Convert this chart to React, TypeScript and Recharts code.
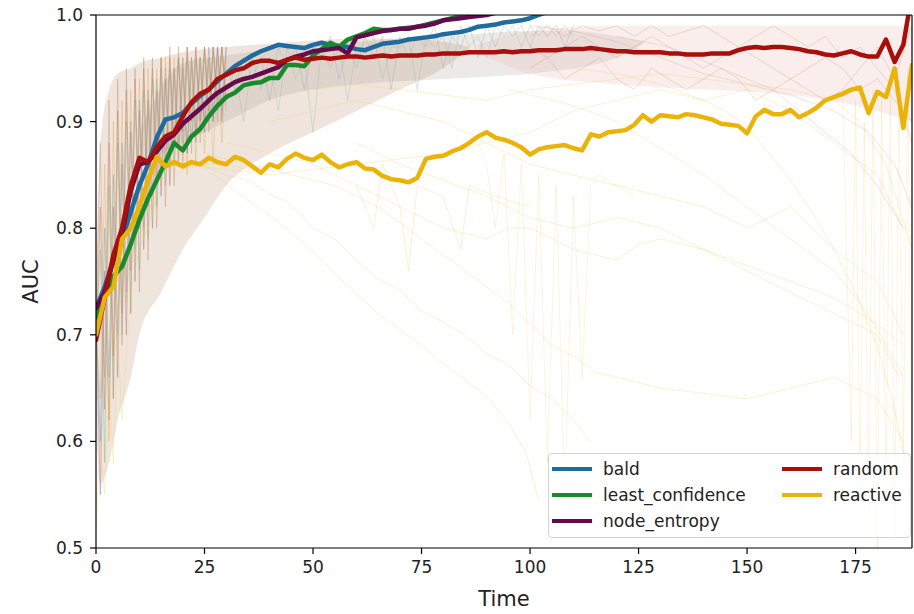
import React from 'react';
import { ComposedChart, Line, Area, XAxis, YAxis, Legend, ReferenceLine } from 'recharts';

// ---------- axis ticks ----------
const xTicks = [0, 25, 50, 75, 100, 125, 150, 175];
const yTicks = [0.5, 0.6, 0.7, 0.8, 0.9, 1.0];
const TIME_STEP = 2; // main series are sampled every 2 time units starting at 0

// ---------- mean curves (t = 0, 2, 4, ...) ----------
const bald = [
  0.725, 0.745, 0.770, 0.790, 0.815, 0.840, 0.860, 0.885, 0.902, 0.904, 0.908, 0.917, 0.924, 0.930, 0.938, 0.945,
  0.952, 0.957, 0.962, 0.966, 0.969, 0.972, 0.971, 0.970, 0.969, 0.972, 0.974, 0.972, 0.971, 0.970, 0.968, 0.967,
  0.970, 0.973, 0.974, 0.975, 0.977, 0.978, 0.979, 0.980, 0.982, 0.983, 0.984, 0.986, 0.989, 0.990, 0.991, 0.993,
  0.994, 0.995, 0.997, 1.000, 1.003, 1.005,
];
const leastConfidence = [
  0.716, 0.735, 0.755, 0.764, 0.785, 0.808, 0.828, 0.845, 0.862, 0.880, 0.873, 0.886, 0.893, 0.905, 0.915, 0.923,
  0.927, 0.934, 0.936, 0.937, 0.941, 0.941, 0.953, 0.953, 0.952, 0.962, 0.968, 0.974, 0.970, 0.977, 0.980, 0.983,
  0.987, 0.986, 0.986, 0.987, 0.988, 0.989, 0.991, 0.993, 0.995, 0.997, 0.999, 1.001, 1.003,
];
const nodeEntropy = [
  0.725, 0.740, 0.770, 0.795, 0.835, 0.860, 0.862, 0.872, 0.882, 0.888, 0.898, 0.905, 0.912, 0.920, 0.927, 0.932,
  0.937, 0.940, 0.942, 0.945, 0.948, 0.951, 0.958, 0.961, 0.963, 0.966, 0.967, 0.968, 0.969, 0.964, 0.979, 0.981,
  0.983, 0.985, 0.986, 0.987, 0.987, 0.989, 0.990, 0.992, 0.995, 0.996, 0.997, 0.998, 0.999, 1.000, 1.002, 1.004,
];
const random = [
  0.695, 0.735, 0.775, 0.800, 0.840, 0.866, 0.862, 0.876, 0.886, 0.890, 0.905, 0.918, 0.926, 0.930, 0.940, 0.944,
  0.948, 0.950, 0.955, 0.957, 0.957, 0.955, 0.958, 0.960, 0.958, 0.959, 0.960, 0.959, 0.960, 0.961, 0.961, 0.960,
  0.961, 0.962, 0.961, 0.962, 0.962, 0.962, 0.963, 0.963, 0.964, 0.964, 0.964, 0.965, 0.965, 0.965, 0.965, 0.966,
  0.965, 0.966, 0.966, 0.967, 0.967, 0.967, 0.968, 0.968, 0.968, 0.969, 0.968, 0.967, 0.966, 0.966, 0.965, 0.965,
  0.965, 0.965, 0.964, 0.964, 0.963, 0.963, 0.963, 0.964, 0.964, 0.964, 0.967, 0.969, 0.970, 0.969, 0.970, 0.970,
  0.969, 0.968, 0.966, 0.965, 0.963, 0.962, 0.964, 0.966, 0.963, 0.961, 0.961, 0.977, 0.956, 0.972, 1.020,
];
const reactive = [
  0.700, 0.735, 0.745, 0.790, 0.800, 0.820, 0.845, 0.867, 0.858, 0.862, 0.858, 0.862, 0.860, 0.866, 0.862, 0.860,
  0.867, 0.864, 0.858, 0.852, 0.860, 0.857, 0.865, 0.870, 0.866, 0.864, 0.869, 0.862, 0.857, 0.860, 0.862, 0.856,
  0.855, 0.849, 0.846, 0.845, 0.843, 0.847, 0.865, 0.867, 0.868, 0.872, 0.875, 0.880, 0.886, 0.890, 0.885, 0.883,
  0.880, 0.876, 0.869, 0.874, 0.876, 0.877, 0.878, 0.875, 0.873, 0.888, 0.886, 0.890, 0.891, 0.892, 0.897, 0.906,
  0.900, 0.906, 0.905, 0.904, 0.907, 0.906, 0.904, 0.902, 0.898, 0.897, 0.896, 0.889, 0.905, 0.911, 0.907, 0.907,
  0.911, 0.904, 0.908, 0.913, 0.920, 0.923, 0.926, 0.930, 0.932, 0.908, 0.928, 0.923, 0.950, 0.894, 0.953,
];

// ---------- individual runs (faint) ----------
// early spiky runs, t = 0..30 step 1
const runBaldEarly = [0.72, 0.60, 0.80, 0.66, 0.85, 0.70, 0.88, 0.74, 0.90, 0.78, 0.92, 0.80, 0.93, 0.83, 0.94, 0.85, 0.95, 0.86, 0.95, 0.88, 0.96, 0.87, 0.96, 0.89, 0.96, 0.90, 0.97, 0.90, 0.97, 0.91, 0.97];
const runLeastEarly = [0.70, 0.78, 0.58, 0.84, 0.64, 0.88, 0.70, 0.90, 0.72, 0.92, 0.76, 0.93, 0.79, 0.94, 0.82, 0.95, 0.84, 0.95, 0.86, 0.96, 0.87, 0.96, 0.88, 0.96, 0.90, 0.97, 0.90, 0.97, 0.91, 0.97, 0.92];
const runRandomEarly = [0.69, 0.82, 0.63, 0.88, 0.68, 0.91, 0.72, 0.93, 0.76, 0.94, 0.80, 0.95, 0.82, 0.95, 0.85, 0.96, 0.86, 0.96, 0.88, 0.96, 0.89, 0.97, 0.90, 0.97, 0.90, 0.97, 0.91, 0.97, 0.92, 0.97, 0.92];
const runEntropyEarly = [0.72, 0.55, 0.76, 0.62, 0.82, 0.66, 0.86, 0.70, 0.89, 0.75, 0.91, 0.78, 0.92, 0.80, 0.93, 0.83, 0.94, 0.84, 0.95, 0.86, 0.95, 0.87, 0.96, 0.88, 0.96, 0.89, 0.96, 0.90, 0.97, 0.90, 0.97];
const runReactiveEarly = [0.70, 0.64, 0.86, 0.60, 0.90, 0.68, 0.92, 0.73, 0.93, 0.77, 0.94, 0.79, 0.95, 0.81, 0.95, 0.84, 0.96, 0.85, 0.96, 0.86, 0.96, 0.85, 0.96, 0.86, 0.96, 0.87, 0.96, 0.86, 0.96, 0.88, 0.96];
const runRandomEarly2 = [0.71, 0.88, 0.66, 0.92, 0.64, 0.94, 0.69, 0.95, 0.72, 0.95, 0.74, 0.96, 0.77, 0.96, 0.80, 0.96, 0.82, 0.97, 0.84, 0.97, 0.86, 0.97, 0.87, 0.97, 0.88, 0.97, 0.89, 0.97, 0.90, 0.97, 0.91];
// mid runs, t = 30..110 step 2
const runBaldMid = [0.95, 0.93, 0.96, 0.94, 0.96, 0.92, 0.97, 0.95, 0.97, 0.93, 0.97, 0.96, 0.98, 0.94, 0.97, 0.95, 0.98, 0.96, 0.98, 0.93, 0.98, 0.96, 0.98, 0.97, 0.99, 0.95, 0.98, 0.97, 0.99, 0.96, 0.99, 0.97, 0.99, 0.98, 0.99, 0.97, 0.99, 0.98, 0.99, 0.97, 0.99];
const runLeastMid = [0.92, 0.95, 0.90, 0.96, 0.93, 0.96, 0.91, 0.97, 0.94, 0.96, 0.89, 0.97, 0.95, 0.97, 0.92, 0.97, 0.96, 0.98, 0.94, 0.97, 0.97, 0.98, 0.93, 0.98, 0.97, 0.98, 0.95, 0.99, 0.97, 0.98, 0.96, 0.99, 0.98, 0.99, 0.97, 0.99, 0.98, 0.99, 0.98, 0.99, 0.98];
// late random runs, t = 100..188 step 4
const runRandomLate1 = [0.97, 0.96, 0.97, 0.98, 0.97, 0.96, 0.97, 0.98, 0.97, 0.96, 0.95, 0.96, 0.97, 0.96, 0.95, 0.94, 0.95, 0.96, 0.95, 0.93, 0.94, 0.92, 0.90];
const runRandomLate2 = [0.95, 0.96, 0.94, 0.95, 0.96, 0.94, 0.93, 0.95, 0.94, 0.93, 0.94, 0.95, 0.94, 0.92, 0.93, 0.94, 0.93, 0.92, 0.93, 0.95, 0.97, 0.94, 0.99];
const runRandomLate3 = [0.98, 0.99, 0.98, 0.99, 0.985, 0.99, 0.98, 0.99, 0.98, 0.985, 0.99, 0.98, 0.97, 0.98, 0.99, 0.98, 0.97, 0.98, 0.96, 0.97, 0.95, 0.93, 0.88];
const runRandomArc: number[][] = [[120, 0.98], [126, 0.975], [132, 0.97], [138, 0.96], [144, 0.95], [150, 0.94], [156, 0.93], [162, 0.91], [168, 0.89], [174, 0.87], [180, 0.84], [186, 0.80]];
const runRandomArc2: number[][] = [[100, 0.99], [110, 0.985], [120, 0.975], [130, 0.96], [140, 0.945], [150, 0.935], [160, 0.925], [170, 0.91], [178, 0.89], [184, 0.86], [188, 0.82]];
// reactive runs, [t, AUC]
const runReactive1: number[][] = [[20, 0.87], [25, 0.856], [30, 0.842], [35, 0.826], [40, 0.812], [45, 0.796], [50, 0.778], [55, 0.758], [60, 0.738], [65, 0.72], [70, 0.705], [75, 0.69], [80, 0.673], [85, 0.658], [90, 0.642], [95, 0.618], [99, 0.59], [102, 0.545]];
const runReactive2: number[][] = [[10, 0.84], [15, 0.86], [20, 0.865], [25, 0.858], [30, 0.85], [35, 0.845], [40, 0.832], [45, 0.822], [50, 0.80], [55, 0.79], [60, 0.77], [65, 0.752], [70, 0.742], [75, 0.722], [80, 0.712], [85, 0.70], [90, 0.682], [95, 0.672], [100, 0.652], [105, 0.64], [110, 0.62], [114, 0.60]];
const runReactive3: number[][] = [[30, 0.88], [35, 0.876], [40, 0.87], [45, 0.866], [50, 0.86], [55, 0.85], [60, 0.84], [65, 0.83], [70, 0.82], [75, 0.81], [80, 0.80], [85, 0.795], [90, 0.79], [95, 0.80], [100, 0.80], [105, 0.79], [110, 0.78], [115, 0.775], [120, 0.77], [125, 0.785], [130, 0.79], [135, 0.785], [140, 0.78], [145, 0.77], [150, 0.76], [155, 0.75], [160, 0.74], [165, 0.73], [170, 0.72], [175, 0.71], [180, 0.70], [185, 0.66]];
const runReactive4: number[][] = [[40, 0.90], [45, 0.905], [50, 0.91], [55, 0.915], [60, 0.92], [65, 0.915], [70, 0.91], [75, 0.905], [80, 0.90], [85, 0.89], [90, 0.88], [95, 0.87], [100, 0.86], [105, 0.855], [110, 0.85], [115, 0.845], [120, 0.84], [125, 0.835], [130, 0.83], [135, 0.825], [140, 0.82], [145, 0.81], [150, 0.80], [155, 0.81], [160, 0.82], [165, 0.80], [170, 0.78], [175, 0.765], [180, 0.75], [186, 0.70]];
const runReactive5: number[][] = [[20, 0.86], [30, 0.855], [40, 0.85], [50, 0.855], [60, 0.86], [70, 0.865], [80, 0.87], [90, 0.88], [100, 0.89], [105, 0.90], [110, 0.91], [115, 0.915], [120, 0.92], [125, 0.925], [130, 0.93], [135, 0.925], [140, 0.92], [145, 0.925], [150, 0.93], [155, 0.92], [160, 0.91], [165, 0.895], [170, 0.88], [175, 0.865], [180, 0.85], [186, 0.80]];
const runReactive6: number[][] = [[88, 0.88], [90, 0.86], [92, 0.80], [94, 0.87], [96, 0.70], [98, 0.86], [100, 0.62], [102, 0.85], [104, 0.58], [106, 0.84], [108, 0.55], [110, 0.83], [112, 0.66], [114, 0.84], [116, 0.85], [120, 0.84], [124, 0.83]];
const runReactive7: number[][] = [[110, 0.95], [120, 0.945], [130, 0.935], [140, 0.92], [145, 0.91], [150, 0.895], [155, 0.87], [160, 0.845], [165, 0.815], [170, 0.78], [175, 0.74], [180, 0.69], [184, 0.63], [187, 0.57]];
const runReactive8: number[][] = [[95, 0.93], [100, 0.925], [110, 0.915], [120, 0.90], [130, 0.875], [140, 0.85], [150, 0.82], [160, 0.79], [165, 0.775], [170, 0.76], [176, 0.73], [180, 0.705], [186, 0.66]];
const runReactive9: number[][] = [[0, 0.52], [1, 0.60], [2, 0.55], [3, 0.66], [4, 0.58], [5, 0.70], [6, 0.62], [8, 0.74], [10, 0.78], [12, 0.80], [14, 0.83], [17, 0.845], [20, 0.855], [25, 0.86], [30, 0.86], [35, 0.855], [40, 0.86]];
const runReactive10: number[][] = [[60, 0.88], [70, 0.86], [80, 0.845], [90, 0.83], [100, 0.81], [110, 0.80], [120, 0.81], [130, 0.80], [140, 0.78], [150, 0.765], [160, 0.75], [170, 0.735], [180, 0.71], [186, 0.69]];
const runReactive11: number[][] = [[172, 0.93], [174, 0.60], [175, 0.92], [176, 0.55], [177, 0.90], [178, 0.52], [179, 0.93], [180, 0.50], [181, 0.92], [182, 0.55], [183, 0.94], [184, 0.51], [185, 0.93], [186, 0.58], [187, 0.95], [188, 0.52]];
const runReactive12: number[][] = [[25, 0.87], [35, 0.86], [45, 0.85], [55, 0.84], [65, 0.82], [75, 0.79], [85, 0.76], [95, 0.73], [100, 0.71], [105, 0.69], [110, 0.68], [115, 0.665], [120, 0.66], [130, 0.65], [140, 0.645], [150, 0.64], [160, 0.65], [170, 0.66], [180, 0.64], [186, 0.60]];
const runReactive13: number[][] = [[50, 0.93], [60, 0.935], [70, 0.93], [80, 0.925], [90, 0.92], [100, 0.93], [110, 0.935], [120, 0.94], [130, 0.945], [140, 0.94], [150, 0.935], [160, 0.93], [170, 0.92], [176, 0.90], [182, 0.86], [188, 0.78]];
const runReactive14: number[][] = [[60, 0.84], [64, 0.80], [66, 0.86], [70, 0.82], [72, 0.76], [74, 0.84], [80, 0.83], [84, 0.78], [86, 0.84], [92, 0.83], [100, 0.82]];

// spread of all runs, [t, low, high]
const spreadEarly: number[][] = [[0, 0.62, 0.76], [1, 0.56, 0.88], [3, 0.58, 0.93], [5, 0.62, 0.945], [8, 0.66, 0.95], [10, 0.70, 0.955], [15, 0.74, 0.96], [20, 0.78, 0.965], [25, 0.81, 0.968], [30, 0.84, 0.97], [40, 0.87, 0.973], [50, 0.89, 0.976], [60, 0.91, 0.978], [70, 0.93, 0.978], [80, 0.95, 0.975], [86, 0.968, 0.97]];
const spreadCore: number[][] = [[10, 0.86, 0.89], [20, 0.88, 0.955], [30, 0.90, 0.962], [40, 0.92, 0.968], [50, 0.93, 0.972], [60, 0.935, 0.975], [80, 0.94, 0.98], [100, 0.945, 0.985], [110, 0.95, 0.985], [120, 0.96, 0.98], [126, 0.972, 0.975]];
const spreadLate: number[][] = [[88, 0.965, 0.972], [100, 0.945, 0.985], [120, 0.935, 0.99], [140, 0.93, 0.99], [160, 0.925, 0.99], [175, 0.915, 0.99], [188, 0.90, 0.99]];

// ---------- styles ----------
const COLORS = {
  bald: '#1f6b9e',
  least_confidence: '#168a2c',
  node_entropy: '#650b4d',
  random: '#a80e0c',
  reactive: '#ebb308',
};
const FONT = '"DejaVu Sans", sans-serif';

const rows = (vals: number[], step: number, start = 0) => vals.map((v, i) => ({ t: start + i * step, v }));
const pairs = (p: number[][]) => p.map(([t, v]) => ({ t, v }));
const bands = (p: number[][]) => p.map(([t, lo, hi]) => ({ t, r: [lo, hi] }));

const YF = '#f0c95a';
const faintRuns = [
  { data: rows(runBaldEarly, 1), color: '#6f9fc0', op: 0.45 },
  { data: rows(runLeastEarly, 1), color: '#7fbf85', op: 0.45 },
  { data: rows(runRandomEarly, 1), color: '#c77a66', op: 0.45 },
  { data: rows(runEntropyEarly, 1), color: '#a57592', op: 0.45 },
  { data: rows(runReactiveEarly, 1), color: '#e0b860', op: 0.45 },
  { data: rows(runRandomEarly2, 1), color: '#c98f70', op: 0.4 },
  { data: rows(runBaldMid, 2, 30), color: '#8ea6b8', op: 0.35 },
  { data: rows(runLeastMid, 2, 30), color: '#9cba9c', op: 0.35 },
  { data: rows(runRandomLate1, 4, 100), color: '#d58c7c', op: 0.3 },
  { data: rows(runRandomLate2, 4, 100), color: '#d58c7c', op: 0.3 },
  { data: rows(runRandomLate3, 4, 100), color: '#d58c7c', op: 0.3 },
  { data: pairs(runRandomArc), color: '#d9a090', op: 0.3 },
  { data: pairs(runRandomArc2), color: '#d9a090', op: 0.3 },
  ...[runReactive1, runReactive2, runReactive3, runReactive4, runReactive5, runReactive7,
    runReactive8, runReactive9, runReactive10, runReactive12, runReactive13, runReactive14].map((r) => ({
    data: pairs(r), color: YF, op: 0.28,
  })),
  { data: pairs(runReactive6), color: YF, op: 0.2 },
  { data: pairs(runReactive11), color: YF, op: 0.2 },
];

const mainSeries = [
  { key: 'bald', data: rows(bald, TIME_STEP) },
  { key: 'least_confidence', data: rows(leastConfidence, TIME_STEP) },
  { key: 'node_entropy', data: rows(nodeEntropy, TIME_STEP) },
  { key: 'random', data: rows(random, TIME_STEP) },
  { key: 'reactive', data: rows(reactive, TIME_STEP) },
];

const legendColumns = [['bald', 'least_confidence', 'node_entropy'], ['random', 'reactive']];

const LegendBox = () => (
  <div
    style={{
      width: 363, height: 85, boxSizing: 'border-box', border: '1px solid #d4d4d4', borderRadius: 4,
      background: 'rgba(255,255,255,0.82)', fontFamily: FONT, fontSize: 17, color: '#222', position: 'relative',
    }}
  >
    {legendColumns.map((col, ci) =>
      col.map((name, ri) => (
        <div
          key={name}
          style={{ position: 'absolute', left: ci === 0 ? 3 : 233, top: 4 + ri * 26, height: 22, display: 'flex', alignItems: 'center', whiteSpace: 'nowrap' }}
        >
          <span style={{ display: 'inline-block', width: 40, height: 4, background: (COLORS as any)[name] }} />
          <span style={{ marginLeft: 11, lineHeight: '22px' }}>{name}</span>
        </div>
      ))
    )}
  </div>
);

const tickStyle = { fill: '#222', fontSize: 17, fontFamily: FONT };

export default function App() {
  return (
    <div style={{ position: 'absolute', left: 0, top: 0, width: 914, height: 614, background: '#fff' }}>
      <ComposedChart width={914} height={614} margin={{ top: 15, right: 2, bottom: 0, left: 0 }}>
        <XAxis
          type="number"
          dataKey="t"
          domain={[0, 188]}
          ticks={xTicks}
          allowDataOverflow
          height={66}
          tickSize={6}
          tickMargin={7}
          tick={tickStyle}
          axisLine={{ stroke: '#000', strokeWidth: 1.2 }}
          tickLine={{ stroke: '#000', strokeWidth: 1.2 }}
          label={{ value: 'Time', position: 'insideBottom', offset: 8, style: { fill: '#222', fontSize: 21, fontFamily: FONT } }}
        />
        <YAxis
          type="number"
          domain={[0.5, 1.0]}
          ticks={yTicks}
          allowDataOverflow
          width={96}
          tickSize={6}
          tickMargin={7}
          tick={tickStyle}
          tickFormatter={(v: number) => v.toFixed(1)}
          axisLine={{ stroke: '#000', strokeWidth: 1.2 }}
          tickLine={{ stroke: '#000', strokeWidth: 1.2 }}
          label={{ value: 'AUC', angle: -90, position: 'insideLeft', offset: 31, style: { fill: '#222', fontSize: 21, fontFamily: FONT, textAnchor: 'middle' } }}
        />
        <Area data={bands(spreadEarly)} dataKey="r" type="monotone" stroke="none" fill="#c4a184" fillOpacity={0.28} isAnimationActive={false} />
        <Area data={bands(spreadCore)} dataKey="r" type="monotone" stroke="none" fill="#a89b8f" fillOpacity={0.22} isAnimationActive={false} />
        <Area data={bands(spreadLate)} dataKey="r" type="monotone" stroke="none" fill="#e8bcb2" fillOpacity={0.25} isAnimationActive={false} />
        {faintRuns.map((r, i) => (
          <Line
            key={'f' + i}
            data={r.data}
            dataKey="v"
            type="linear"
            stroke={r.color}
            strokeOpacity={r.op}
            strokeWidth={1}
            dot={false}
            activeDot={false}
            isAnimationActive={false}
          />
        ))}
        {mainSeries.map((s) => (
          <Line
            key={s.key}
            name={s.key}
            data={s.data}
            dataKey="v"
            type="linear"
            stroke={(COLORS as any)[s.key]}
            strokeWidth={4.5}
            strokeLinejoin="round"
            strokeLinecap="round"
            dot={false}
            activeDot={false}
            isAnimationActive={false}
          />
        ))}
        <ReferenceLine y={1.0} stroke="#000" strokeWidth={1.2} />
        <ReferenceLine x={188} stroke="#000" strokeWidth={1.2} />
        <Legend
          layout="vertical"
          align="center"
          verticalAlign="middle"
          content={() => <LegendBox />}
          wrapperStyle={{ left: 548, top: 453, width: 363, height: 85 }}
        />
      </ComposedChart>
    </div>
  );
}
